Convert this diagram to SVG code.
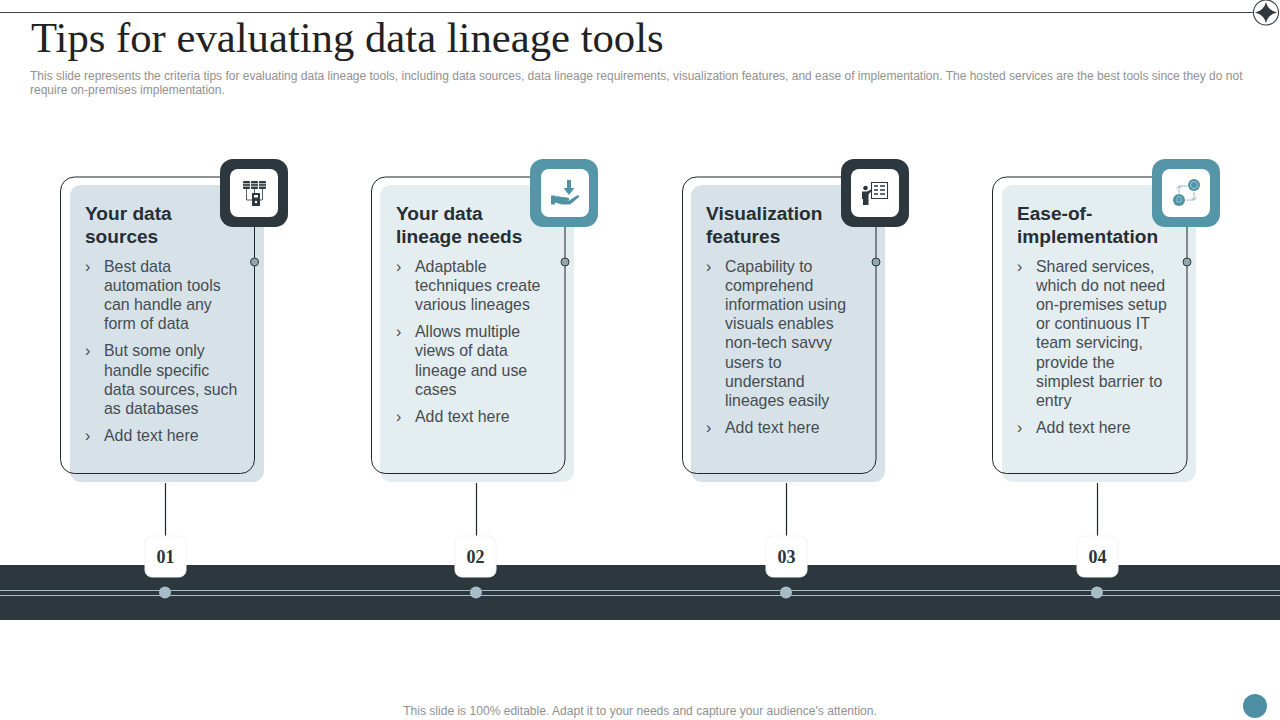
<svg xmlns="http://www.w3.org/2000/svg" width="1280" height="720" viewBox="0 0 1280 720">
<style>
text{font-family:"Liberation Sans",Arial,sans-serif}
.title{font-family:"Liberation Serif","Times New Roman",serif;font-size:42.7px;fill:#222}
.sub{font-size:12px;fill:#919191}
.h{font-size:19.1px;font-weight:700;fill:#262f35}
.b{font-size:15.9px;fill:#454c51}
.num{font-family:"Liberation Serif",serif;font-size:18px;font-weight:700;fill:#2b343a;text-anchor:middle}
.out{fill:none;stroke:#1f2529;stroke-width:1}
.ln{stroke:#1f2529;stroke-width:1.2;fill:none}
.top{stroke:#2a2f33;stroke-width:.9;fill:none}
.dk{fill:#2c383d}.tl{fill:#5595a8}
.ic{fill:#2c383d}.ict{fill:#4f92a6}
.bar{stroke:#a9bcc4;stroke-width:1.1}
.nb{fill:#fff;stroke:#f3f3f3;stroke-width:1}
.dot{fill:#94a6ad;stroke:#2c383d;stroke-width:1}
.tip{fill:#a6bcc6}
.wl{fill:none;stroke:#fff;stroke-width:.8}
</style>
<g id="header">
<path class="top" d="M0 12.500H1254"/>
<circle cx="1266" cy="12.500" r="12.500" fill="#fff" stroke="#3a3f42" stroke-width="1.100"/>
<path d="M1266 2Q1268 10.500 1277 12.500Q1268 14.500 1266 23Q1264 14.500 1255 12.500Q1264 10.500 1266 2Z" fill="#33383c"/>
<text class="title" x="31" y="52">Tips for evaluating data lineage tools</text>
<text class="sub" x="30" y="79.500">This slide represents the criteria tips for evaluating data lineage tools, including data sources, data lineage requirements, visualization features, and ease of implementation. The hosted services are the best tools since they do not</text>
<text class="sub" x="30" y="93.500">require on-premises implementation.</text>
</g>
<g id="timeline">
<rect y="565" width="1280" height="55" class="dk"/>
<path class="bar" d="M0 590.500H1280M0 595.500H1280"/>
</g>
<g id="connectors">
<path class="ln" d="M165.500 483V536M476.500 483V536M786.500 483V536M1097.500 483V536"/>
</g>
<g id="card1">
<rect x="70" y="185" width="194" height="297" rx="11" fill="#d6e2e8"/>
<rect x="60.500" y="177" width="194" height="296.500" rx="14" class="out"/>
<circle cx="254.500" cy="262" r="4" class="dot"/>
<rect x="220" y="159" width="68" height="68" rx="13" class="dk"/>
<rect x="230" y="169" width="48" height="48" rx="8" fill="#fff"/>
<g class="ic"><rect x="243" y="181" width="7" height="8" rx="1"/><rect x="251" y="181" width="7" height="8" rx="1"/><rect x="259" y="181" width="7" height="8" rx="1"/><path class="wl" d="M243 183.700H266M243 186.300H266"/><rect x="252" y="193" width="8" height="13"/><rect x="254" y="195" width="4" height="2.500" fill="#fff"/><circle cx="256" cy="202" r="1.200" fill="#fff"/><path d="M246.500 189V200H252M254.500 189V193M262.500 189V200H260" fill="none" stroke="#2c383d" stroke-width=".8"/></g>
<text class="h"><tspan x="85" y="219.500">Your data</tspan><tspan x="85" y="242.500">sources</tspan></text>
<text class="b"><tspan x="85" y="272">›</tspan><tspan x="104" y="272">Best data</tspan><tspan x="104" y="291">automation tools</tspan><tspan x="104" y="310">can handle any</tspan><tspan x="104" y="329">form of data</tspan><tspan x="85" y="356">›</tspan><tspan x="104" y="356">But some only</tspan><tspan x="104" y="376">handle specific</tspan><tspan x="104" y="395">data sources, such</tspan><tspan x="104" y="414">as databases</tspan><tspan x="85" y="441">›</tspan><tspan x="104" y="441">Add text here</tspan></text>
<rect x="145" y="536" width="41" height="41" rx="7" class="nb"/>
<text class="num" x="165.500" y="563">01</text>
<circle cx="165" cy="592.500" r="6" class="tip"/>
</g>
<g id="card2">
<rect x="380" y="185" width="194" height="297" rx="11" fill="#e4edf0"/>
<rect x="371.500" y="177" width="193.500" height="296.500" rx="14" class="out"/>
<circle cx="565" cy="262" r="4" class="dot"/>
<rect x="530" y="159" width="68" height="68" rx="13" class="tl"/>
<rect x="541" y="169" width="48" height="48" rx="8" fill="#fff"/>
<g class="ict"><path d="M567 180H571V188H574.500L569 195L563.500 188H567Z"/><path d="M551 195.500H555V196.500C559 195.500 562 197.500 567 197.500C570 197.500 570 200.500 567 200.500H562L569 200.500L577 195.500C579 194.500 580 196.500 578 198L570 204.500H562L555 202.500V204.500H551Z"/></g>
<text class="h"><tspan x="396" y="219.500">Your data</tspan><tspan x="396" y="242.500">lineage needs</tspan></text>
<text class="b"><tspan x="396" y="272">›</tspan><tspan x="415" y="272">Adaptable</tspan><tspan x="415" y="291">techniques create</tspan><tspan x="415" y="310">various lineages</tspan><tspan x="396" y="337">›</tspan><tspan x="415" y="337">Allows multiple</tspan><tspan x="415" y="356">views of data</tspan><tspan x="415" y="376">lineage and use</tspan><tspan x="415" y="395">cases</tspan><tspan x="396" y="422">›</tspan><tspan x="415" y="422">Add text here</tspan></text>
<rect x="455" y="536" width="41" height="41" rx="7" class="nb"/>
<text class="num" x="475.500" y="563">02</text>
<circle cx="476" cy="592.500" r="6" class="tip"/>
</g>
<g id="card3">
<rect x="691" y="185" width="194" height="297" rx="11" fill="#d6e2e8"/>
<rect x="682.500" y="177" width="193.500" height="296.500" rx="14" class="out"/>
<circle cx="876" cy="262" r="4" class="dot"/>
<rect x="841" y="159" width="68" height="68" rx="13" class="dk"/>
<rect x="851" y="169" width="48" height="48" rx="8" fill="#fff"/>
<g class="ic"><circle cx="865.500" cy="188" r="2.300"/><path d="M862 191.500H867L871 189.500V191.500L868.500 194.500V205H863V199H862Z"/><path d="M871.500 182.500H887.500V198.500H871.500Z" fill="#fff" stroke="#2c383d" stroke-width="1.100"/><path d="M874 186H878M880 186H885M874 190H878M880 190H885M874 194H878M880 194H885" stroke="#2c383d" stroke-width="1.400"/></g>
<text class="h"><tspan x="706" y="219.500">Visualization</tspan><tspan x="706" y="242.500">features</tspan></text>
<text class="b"><tspan x="706" y="272">›</tspan><tspan x="725" y="272">Capability to</tspan><tspan x="725" y="291">comprehend</tspan><tspan x="725" y="310">information using</tspan><tspan x="725" y="329">visuals enables</tspan><tspan x="725" y="348">non-tech savvy</tspan><tspan x="725" y="368">users to</tspan><tspan x="725" y="387">understand</tspan><tspan x="725" y="406">lineages easily</tspan><tspan x="706" y="433">›</tspan><tspan x="725" y="433">Add text here</tspan></text>
<rect x="766" y="536" width="41" height="41" rx="7" class="nb"/>
<text class="num" x="786.500" y="563">03</text>
<circle cx="786" cy="592.500" r="6" class="tip"/>
</g>
<g id="card4">
<rect x="1002" y="185" width="194" height="297" rx="11" fill="#e4edf0"/>
<rect x="992.500" y="177" width="194.500" height="296.500" rx="14" class="out"/>
<circle cx="1187" cy="262" r="4" class="dot"/>
<rect x="1152" y="159" width="68" height="68" rx="13" class="tl"/>
<rect x="1162" y="169" width="48" height="48" rx="8" fill="#fff"/>
<g class="ict"><circle cx="1194" cy="185" r="6"/><circle cx="1179" cy="200" r="6"/><circle cx="1194" cy="185" r="3.500" fill="none" stroke="#a9cdd7" stroke-width=".9"/><path d="M1177 198.500a2 2 0 0 1 4 0v3.500h-4z" fill="none" stroke="#a9cdd7" stroke-width=".9"/><path d="M1179 193V186H1187M1176.500 188.500L1179 186L1181.500 188.500M1194 192V200H1186M1191.500 197.500L1194 200L1196.500 197.500" fill="none" stroke="#8fb2bd" stroke-width=".9"/></g>
<text class="h"><tspan x="1017" y="219.500">Ease-of-</tspan><tspan x="1017" y="242.500">implementation</tspan></text>
<text class="b"><tspan x="1017" y="272">›</tspan><tspan x="1036" y="272">Shared services,</tspan><tspan x="1036" y="291">which do not need</tspan><tspan x="1036" y="310">on-premises setup</tspan><tspan x="1036" y="329">or continuous IT</tspan><tspan x="1036" y="348">team servicing,</tspan><tspan x="1036" y="368">provide the</tspan><tspan x="1036" y="387">simplest barrier to</tspan><tspan x="1036" y="406">entry</tspan><tspan x="1017" y="433">›</tspan><tspan x="1036" y="433">Add text here</tspan></text>
<rect x="1077" y="536" width="41" height="41" rx="7" class="nb"/>
<text class="num" x="1097.500" y="563">04</text>
<circle cx="1097" cy="592.500" r="6" class="tip"/>
</g>
<g id="footer">
<text x="640" y="715" text-anchor="middle" font-size="12.070" fill="#919191">This slide is 100% editable. Adapt it to your needs and capture your audience's attention.</text>
<circle cx="1255" cy="706" r="12" fill="#4f8fa3"/>
</g>
</svg>
